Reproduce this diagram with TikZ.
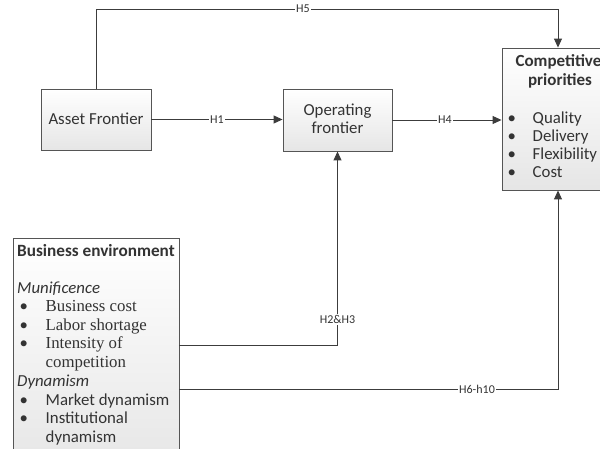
\documentclass[tikz,border=0pt]{standalone}
\usepackage{fontspec}
\setmainfont{Carlito}
\newfontfamily\timesfont{Liberation Serif}
\usetikzlibrary{arrows.meta,shadows}
\definecolor{edge}{HTML}{555555}
\definecolor{ink}{HTML}{333333}
\definecolor{wire}{HTML}{3C3C3C}
\tikzset{
  box/.style={draw=edge, line width=0.9pt, top color=white, bottom color=black!10,
    drop shadow={opacity=0.12, shadow xshift=1.2pt, shadow yshift=-1.2pt}},
  boxtext/.style={font=\fontsize{16.8}{18.5}\selectfont, text=ink, align=center, inner sep=0},
  item/.style={anchor=base west, inner sep=0, font=\fontsize{16.8}{18.5}\selectfont, text=ink},
  sitem/.style={anchor=base west, inner sep=0, font=\fontsize{16.8}{18.5}\timesfont, text=ink},
  hyp/.style={font=\fontsize{12}{13}\selectfont, text=ink, fill=white, inner sep=1pt},
  link/.style={draw=wire, line width=1pt},
  arr/.style={link, -{Triangle[length=9pt,width=8pt]}},
}
\begin{document}
\begin{tikzpicture}[x=1pt,y=-1pt]
\useasboundingbox (0,0) rectangle (600,448);

% boxes
\node[box, minimum width=110pt, minimum height=61pt] (asset) at (96,119.5) {};
\node[box, minimum width=109pt, minimum height=62pt] (op) at (337.5,120) {};
\node[box, minimum width=116pt, minimum height=142pt] (comp) at (560,119) {};
\node[box, minimum width=166pt, minimum height=236pt] (biz) at (96,356) {};

% box texts
\node[boxtext, anchor=base] (assettxt) at (96,124) {Asset Frontier};
\node[boxtext, anchor=base] (optxt1) at (337.5,115) {Operating};
\node[boxtext, anchor=base] (optxt2) at (337.5,133.5) {frontier};

\node[boxtext, anchor=base, font=\fontsize{17}{18.5}\bfseries] (ctitle1) at (558.5,66.5) {Competitive};
\node[boxtext, anchor=base, font=\fontsize{17}{18.5}\bfseries] (ctitle2) at (560,85) {priorities};
\foreach \y/\t [count=\i] in {123/Quality,141.5/Delivery,159.5/Flexibility,177.5/Cost}{
  \node[item] (cb\i) at (507.5,\y) {\textbullet};
  \node[item] (ci\i) at (532.5,\y) {\t};
}

\node[item, font=\fontsize{17.2}{18.5}\bfseries] (btitle) at (17,256) {Business environment};
\node[item, font=\fontsize{16.8}{18.5}\itshape] (munif) at (17,293) {Munificence};
\foreach \y/\t [count=\i] in {311/Business cost,330/Labor shortage,348.5/Intensity of}{
  \node[item] (mb\i) at (19.5,\y) {\textbullet};
  \node[sitem] (mi\i) at (45.5,\y) {\t};
}
\node[sitem] (mi4) at (45.5,367) {competition};
\node[item, font=\fontsize{16.8}{18.5}\itshape] (dyn) at (17,386) {Dynamism};
\foreach \y/\t [count=\i] in {405/Market dynamism,423.5/Institutional}{
  \node[item] (db\i) at (19.5,\y) {\textbullet};
  \node[item] (di\i) at (45.5,\y) {\t};
}
\node[item] (di3) at (45.5,442) {dynamism};

% connector corners
\coordinate (h5a) at (96,9);
\coordinate (h5b) at (558,9);
\coordinate (h23a) at (179,345);
\coordinate (h23b) at (337.5,345);
\coordinate (h6a) at (179,389);
\coordinate (h6b) at (558,389);

% connectors
\draw[arr] (asset.north) -- (h5a) -- (h5b) -- (h5b |- comp.north);
\node[hyp] (h5) at (303,9) {H5};

\draw[arr] (asset.east) -- (op.west |- asset.east);
\node[hyp] (h1) at (217,119.5) {H1};

\draw[arr] (op.east) -- (comp.west |- op.east);
\node[hyp] (h4) at (445,120) {H4};

\draw[arr] (h23a) -- (h23b) -- (op.south);
\node[hyp] (h23) at (337.5,319.5) {H2\&H3};

\draw[arr] (h6a) -- (h6b) -- (h6b |- comp.south);
\node[hyp] (h610) at (477,389) {H6-h10};
\end{tikzpicture}
\end{document}
